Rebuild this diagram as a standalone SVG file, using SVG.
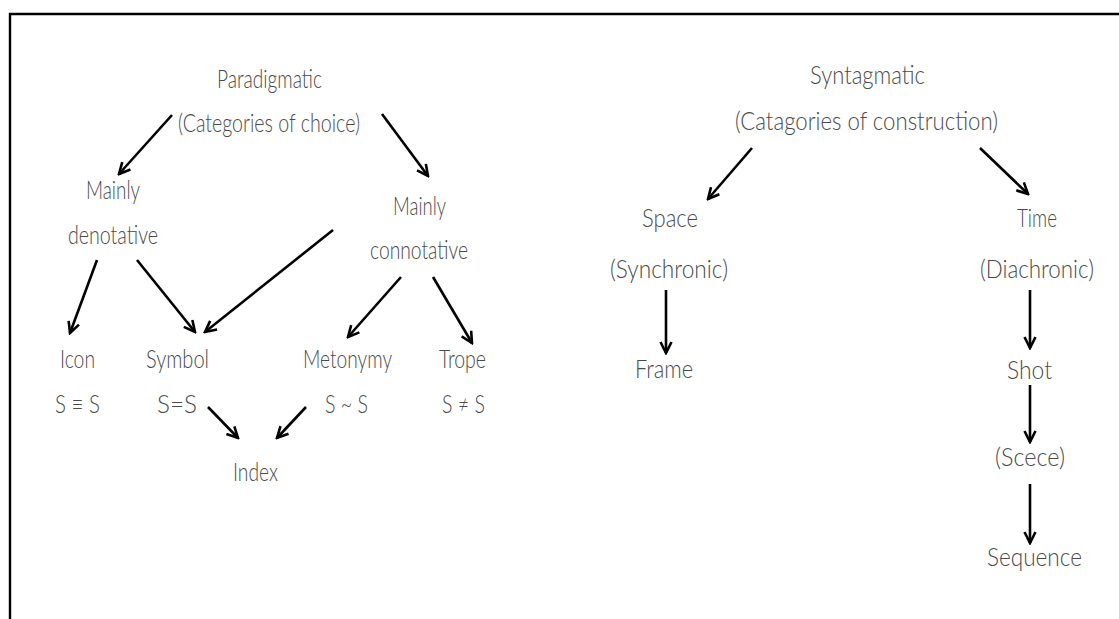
<svg xmlns="http://www.w3.org/2000/svg" width="1119" height="619" viewBox="0 0 1119 619">
<style>
text{font-family:Lato,"Open Sans","Liberation Sans",sans-serif;font-weight:300;font-size:25px;fill:#4a4a4a;text-anchor:middle}
.c{stroke:#000;stroke-width:2.6;fill:none;marker-end:url(#ah)}
</style>
<defs>
<marker id="ah" markerUnits="userSpaceOnUse" viewBox="0 0 14 14" refX="12" refY="7" markerWidth="14" markerHeight="14" orient="auto">
<path d="M1,1.5 L12,7 L1,12.5" fill="none" stroke="#000" stroke-width="2.6" stroke-linejoin="miter"/>
</marker>
</defs>
<rect width="1119" height="619" fill="#fff"/>
<g id="frame-border" stroke="#000" stroke-width="2.4" fill="none">
<path d="M1119,14 H10 V619"/>
</g>
<g id="connectors">
<line class="c" x1="172" y1="115" x2="119" y2="174"/>
<line class="c" x1="382" y1="114" x2="428" y2="176"/>
<line class="c" x1="97" y1="260" x2="70" y2="333"/>
<line class="c" x1="137" y1="260" x2="195" y2="332"/>
<line class="c" x1="333" y1="230" x2="205" y2="332"/>
<line class="c" x1="401" y1="277" x2="348" y2="337"/>
<line class="c" x1="433" y1="277" x2="472" y2="343"/>
<line class="c" x1="208" y1="407" x2="238" y2="438"/>
<line class="c" x1="306" y1="407" x2="277" y2="438"/>
<line class="c" x1="752" y1="148" x2="708" y2="199"/>
<line class="c" x1="980" y1="148" x2="1028" y2="194"/>
<line class="c" x1="666" y1="290" x2="666" y2="353"/>
<line class="c" x1="1030" y1="290" x2="1030" y2="348"/>
<line class="c" x1="1030" y1="385" x2="1030" y2="442"/>
<line class="c" x1="1030" y1="484" x2="1030" y2="543"/>
</g>
<g id="paradigmatic"><text x="269.5" y="88" textLength="105" lengthAdjust="spacingAndGlyphs">Paradigmatic</text><text x="269" y="132" textLength="182" lengthAdjust="spacingAndGlyphs">(Categories of choice)</text></g>
<g id="denotative"><text x="113" y="199" textLength="54" lengthAdjust="spacingAndGlyphs">Mainly</text><text x="113" y="244" textLength="90" lengthAdjust="spacingAndGlyphs">denotative</text></g>
<g id="connotative"><text x="419.5" y="215" textLength="53" lengthAdjust="spacingAndGlyphs">Mainly</text><text x="419" y="259" textLength="98" lengthAdjust="spacingAndGlyphs">connotative</text></g>
<g id="icon"><text x="77.5" y="368" textLength="35" lengthAdjust="spacingAndGlyphs">Icon</text><text x="77.5" y="413" textLength="45" lengthAdjust="spacingAndGlyphs">S ≡ S</text></g>
<g id="symbol"><text x="177.5" y="368" textLength="63" lengthAdjust="spacingAndGlyphs">Symbol</text><text x="177" y="413" textLength="40" lengthAdjust="spacingAndGlyphs">S=S</text></g>
<g id="metonymy"><text x="347.5" y="368" textLength="89" lengthAdjust="spacingAndGlyphs">Metonymy</text><text x="346.5" y="413" textLength="43" lengthAdjust="spacingAndGlyphs">S ~ S</text></g>
<g id="trope"><text x="462.5" y="368" textLength="47" lengthAdjust="spacingAndGlyphs">Trope</text><text x="463.5" y="413" textLength="43" lengthAdjust="spacingAndGlyphs">S ≠ S</text></g>
<g id="index"><text x="255.5" y="481" textLength="45" lengthAdjust="spacingAndGlyphs">Index</text></g>
<g id="syntagmatic"><text x="867.5" y="84" textLength="115" lengthAdjust="spacingAndGlyphs">Syntagmatic</text><text x="866.5" y="130" textLength="263" lengthAdjust="spacingAndGlyphs">(Catagories of construction)</text></g>
<g id="space"><text x="670" y="227" textLength="56" lengthAdjust="spacingAndGlyphs">Space</text><text x="669" y="278" textLength="118" lengthAdjust="spacingAndGlyphs">(Synchronic)</text></g>
<g id="time"><text x="1037" y="227" textLength="40" lengthAdjust="spacingAndGlyphs">Time</text><text x="1037" y="278" textLength="114" lengthAdjust="spacingAndGlyphs">(Diachronic)</text></g>
<g id="frame"><text x="664" y="378" textLength="58" lengthAdjust="spacingAndGlyphs">Frame</text></g>
<g id="shot"><text x="1029.5" y="379" textLength="45" lengthAdjust="spacingAndGlyphs">Shot</text></g>
<g id="scene"><text x="1030" y="466" textLength="70" lengthAdjust="spacingAndGlyphs">(Scece)</text></g>
<g id="sequence"><text x="1034.5" y="566" textLength="95" lengthAdjust="spacingAndGlyphs">Sequence</text></g>
</svg>
